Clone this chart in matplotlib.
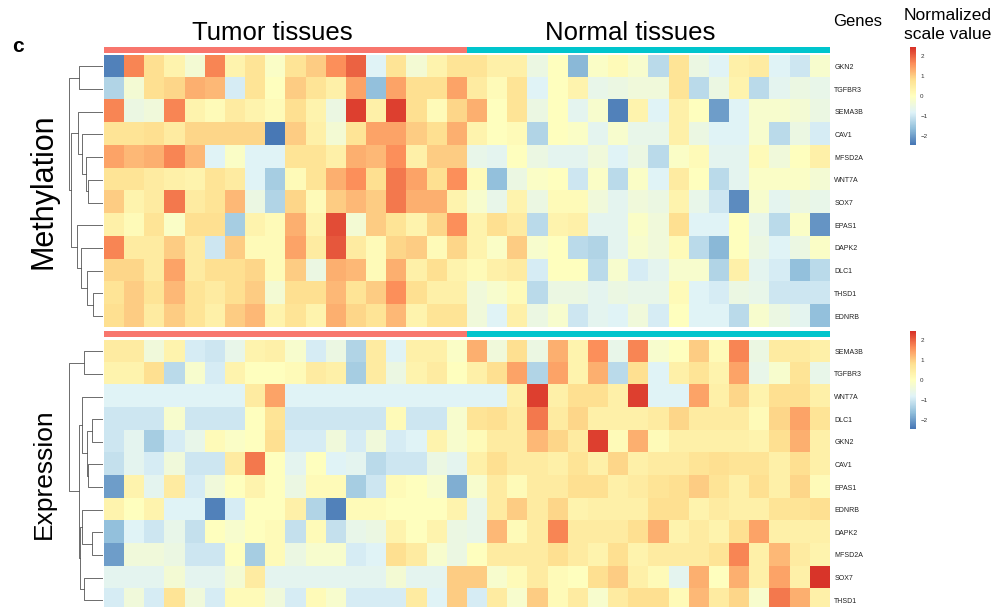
import numpy as np
import matplotlib
matplotlib.use("Agg")
import matplotlib.pyplot as plt
from matplotlib.colors import LinearSegmentedColormap, ListedColormap

plt.rcParams['font.family'] = ['Liberation Sans', 'DejaVu Sans']

# ---- data ----
groups = ['Tumor'] * 18 + ['Normal'] * 18

meth_genes = ['GKN2', 'TGFBR3', 'SEMA3B', 'CAV1', 'MFSD2A', 'WNT7A',
              'SOX7', 'EPAS1', 'DAPK2', 'DLC1', 'THSD1', 'EDNRB']
meth = [
    [-2.3, 1.7, 0.8, 0.3, -0.3, 1.7, 0.3, 0.7, -0.1, 0.7, 1.0, 1.6, 2.0, -0.8, 0.7, -0.3, 0.3, 0.7,
     0.7, 0.4, 0.4, -0.5, 0.0, -1.7, -0.1, 0.1, -0.2, -1.2, 0.7, -0.5, -0.8, 0.4, 0.5, -0.8, -1.0, -0.2],
    [-1.3, -0.3, 0.8, 0.9, 1.3, 1.2, -0.9, 0.7, 0.0, 1.0, 0.7, 0.4, 1.4, -1.6, 1.4, 0.8, 0.8, 1.4,
     0.5, 0.1, 0.7, -0.8, 0.0, 0.3, -0.6, -0.5, -0.4, -0.4, 0.7, -1.2, -0.5, 0.3, -1.2, -0.7, -0.5, -0.6],
    [1.7, -0.5, -0.4, 1.7, 0.3, 0.1, 0.5, 0.3, 0.1, 0.8, 0.3, -0.5, 2.3, 0.4, 2.3, 0.8, 0.1, 0.9,
     1.3, 0.0, 0.7, -0.5, 0.0, -0.7, -0.2, -2.3, 0.3, -0.8, 0.4, 0.0, -2.0, -0.8, -0.2, -0.2, -0.3, -0.5],
    [0.7, 0.7, 0.8, 0.5, 0.9, 0.9, 0.9, 0.9, -2.4, 1.0, 0.4, -0.3, 0.7, 1.4, 1.4, 1.0, 0.8, 1.3,
     0.3, 0.0, 0.1, -1.3, 0.0, -0.1, -0.7, -0.2, -0.6, -0.6, 0.4, -0.5, -0.8, -0.8, -0.2, -1.2, -0.5, -0.9],
    [1.4, 1.2, 1.3, 1.7, 1.2, -0.8, -0.1, -0.8, -0.8, 0.7, 0.7, 0.4, 1.3, 1.2, 1.6, 0.4, 1.0, 1.0,
     -0.6, -0.7, 0.0, -0.5, -0.7, -0.7, -0.4, -0.8, -0.5, -1.2, -0.1, 0.1, -0.7, -0.7, 0.1, -0.4, 0.0, 0.4],
    [0.7, 0.7, 0.5, 0.4, 0.3, 0.7, 0.5, -0.8, -1.4, 0.1, 0.7, 1.3, 1.6, 0.8, 1.8, 1.4, 0.8, 1.6,
     0.1, -1.6, -0.5, -0.1, 0.0, -1.0, -0.1, -1.2, -0.1, -0.8, 0.5, 0.0, -1.2, -0.7, -0.1, -0.1, -0.1, -0.3],
    [1.0, 0.3, 0.5, 1.8, 0.5, 0.7, 1.2, -0.5, -1.3, 0.9, 0.1, 1.0, 1.2, 1.0, 1.8, 1.3, 1.3, 0.3,
     -0.2, -0.6, 0.3, -0.5, 0.1, 0.1, -0.4, -0.7, -0.4, -0.5, 0.3, -0.6, -1.0, -2.2, -0.2, -0.7, -0.5, -0.6],
    [0.4, 0.1, 0.7, -0.1, 0.8, 0.8, -1.4, 0.3, 0.1, 1.3, 0.3, 2.2, -0.3, 1.0, 0.7, 0.3, 0.9, 1.6,
     0.3, 0.8, 0.5, -1.2, 0.3, 0.4, -0.7, -0.7, -0.1, -0.4, 0.8, -0.8, -0.8, 0.0, -0.6, -1.2, -0.1, -2.1],
    [1.7, 0.5, 0.5, 1.0, 0.5, -1.0, 1.0, 0.1, 0.1, 1.4, 0.5, 2.1, 0.5, 0.1, 0.9, 1.0, 0.1, 0.9,
     0.3, -0.1, 1.0, -0.2, 0.0, -1.2, -1.3, -0.7, -0.2, -0.4, 0.1, -1.2, -1.7, 0.0, -0.5, -0.8, -0.5, -0.1],
    [0.9, 0.9, 0.5, 1.4, 0.5, 0.8, 0.8, 0.9, 0.1, 1.0, -0.5, 1.3, 1.2, 0.1, 1.3, 0.4, 0.8, 0.3,
     0.1, 0.4, 0.5, -0.9, 0.0, 0.0, -1.2, -0.2, -0.9, -0.7, -0.2, -0.2, -1.3, 0.4, -0.7, -0.9, -1.6, -1.2],
    [0.7, 1.0, 0.7, 1.2, 0.7, 0.5, 0.8, 1.0, -0.3, 0.8, 0.8, 1.2, 0.7, 1.0, 1.6, 0.8, 0.4, 0.4,
     -0.4, -0.2, 0.1, -1.2, -0.5, -0.5, -0.7, -0.5, -0.6, -0.6, 0.1, -0.8, -0.9, -0.5, -0.6, -1.0, -1.0, -1.0],
    [0.8, 1.0, 0.5, 1.0, 0.7, 0.4, 1.0, 1.2, 0.3, 0.7, 0.3, 1.3, 0.9, 0.7, 1.2, 0.3, 0.7, 0.7,
     -0.4, -0.8, 0.4, -0.5, -0.2, -1.0, -0.7, -0.8, -0.4, -0.9, 0.0, -0.8, -0.8, -1.2, -0.2, -0.5, -0.7, -1.6],
]

expr_genes = ['SEMA3B', 'TGFBR3', 'WNT7A', 'DLC1', 'GKN2', 'CAV1',
              'EPAS1', 'EDNRB', 'DAPK2', 'MFSD2A', 'SOX7', 'THSD1']
expr = [
    [0.5, 0.5, -0.4, 0.3, -0.9, -1.0, -0.6, 0.3, 0.4, -0.2, -0.9, -0.5, -1.3, 0.5, -0.8, 0.4, 0.4, -0.1,
     1.3, -0.4, 0.8, -0.5, 1.3, 0.3, 1.6, -0.6, 1.7, -0.2, 0.0, 1.0, 0.1, 1.7, -0.5, 0.5, 0.5, 0.4],
    [0.3, 0.3, 0.8, -1.2, -0.2, -0.9, 0.3, 0.0, 0.0, 0.1, 0.5, 0.4, -1.4, 0.5, -0.5, 0.3, 0.5, 0.0,
     0.4, 0.8, 1.4, -1.3, 1.4, 0.3, 1.3, -1.2, 0.8, -0.8, 0.4, 0.7, 0.3, 1.4, -0.6, -0.2, 0.7, -0.6],
    [-0.8, -0.8, -0.8, -0.8, -0.8, -0.8, -0.8, 0.5, 1.4, -0.8, -0.8, -0.8, -0.8, -0.8, -0.8, -0.8, -0.8, -0.8,
     -0.8, -0.8, 0.4, 2.3, 0.4, 0.8, 0.8, 0.4, 2.3, -0.8, -0.8, 1.4, 0.4, 0.9, 0.3, 0.8, 0.8, 0.4],
    [-1.0, -1.0, -1.0, -0.2, -1.0, -1.0, -1.0, 0.0, 0.7, -1.0, -1.0, -1.0, -1.0, -1.0, 0.1, -1.0, -1.0, -0.2,
     0.7, 0.8, 0.5, 1.8, 0.5, 0.9, 0.4, 0.4, 0.4, 0.5, 0.9, 0.5, 0.5, 0.5, 0.1, 0.9, 1.4, 0.7],
    [-1.0, -0.7, -1.4, -0.9, -0.6, 0.1, -0.1, 0.0, 0.8, -0.9, -0.9, -0.4, -0.9, -0.4, -0.9, -0.8, 0.3, -0.2,
     0.1, 0.5, 0.5, 1.2, 0.9, 0.5, 2.3, 0.1, 1.3, 0.1, 0.4, 0.4, 0.4, 0.4, 0.3, 0.8, 1.3, 0.4],
    [-1.1, -0.7, -0.9, -0.4, -1.0, -1.0, 0.5, 1.8, 0.0, -0.7, 0.0, -0.8, -0.7, -1.2, -1.0, -1.0, -0.5, -0.7,
     0.4, 0.8, 0.5, 0.5, 0.4, 0.7, 0.4, 0.9, 0.4, 0.5, 0.5, 0.7, 0.8, 0.7, 0.7, 0.4, 0.8, 0.4],
    [-2.0, 0.3, -0.7, 0.5, -0.9, -0.4, 0.0, 0.3, 0.0, -0.5, 0.1, 0.1, -1.4, -1.0, 0.1, 0.0, -0.2, -1.8,
     -0.2, 0.5, 0.1, 0.5, 0.5, 0.8, 0.8, 0.4, 0.5, 0.7, 0.8, 1.0, 0.7, 0.4, 0.8, 0.4, 0.9, 0.1],
    [0.3, 0.0, 0.3, -0.8, -0.8, -2.3, -0.9, 0.0, 0.0, 0.4, -1.3, -2.3, 0.1, 0.1, 0.0, 0.0, 0.0, 0.3,
     -0.6, 0.5, 1.0, 0.5, 0.9, 0.3, 0.4, 0.4, 0.4, 0.8, 0.8, 0.3, 0.5, 0.4, 0.4, 0.7, 0.7, 0.8],
    [-1.6, -0.8, -1.0, -0.6, -1.1, 0.0, -0.2, 0.0, 0.1, -1.1, 0.1, -1.1, -0.6, -0.5, 0.3, 0.0, 0.3, -0.5,
     -0.6, 1.2, 0.1, 0.5, 1.7, 0.5, 0.5, 0.5, 0.8, 1.3, 0.3, 0.5, 0.3, 0.8, 1.4, 0.4, 0.4, 0.4],
    [-2.0, -0.4, -0.4, -0.5, -1.0, -1.0, 0.0, -1.4, 0.1, -0.5, -0.2, -0.2, -0.9, -0.8, 0.8, 0.5, -0.2, -0.5,
     0.0, 0.5, 0.5, 0.5, 0.8, 0.5, 0.3, 0.8, 0.3, 0.5, 0.5, 0.5, 0.7, 1.7, 0.4, 1.2, 0.5, 0.3],
    [-0.7, -0.7, -0.7, -0.3, -0.7, -0.7, -0.3, 0.5, -0.7, -0.7, -0.7, -0.7, -0.7, -0.7, -0.3, -0.7, -0.7, 1.0,
     1.0, -0.2, 0.1, 0.5, 0.1, 0.0, 0.8, 1.0, 0.4, 0.1, -0.7, 1.3, 0.0, 1.3, 0.4, 1.4, 0.4, 2.4],
    [-0.9, -0.4, -0.9, 0.7, -0.4, -0.9, 0.1, 0.1, -0.4, -0.9, 0.1, -0.2, -0.9, -0.9, -0.9, 0.5, -0.8, 1.0,
     -0.9, 0.5, -0.2, 1.0, 0.1, 0.5, -0.2, 0.5, 0.8, 0.8, 0.1, 1.2, 0.5, 0.9, -0.2, 1.8, 1.3, 0.4],
]

# row clustering (left child, right child, merge height); leaves = row index
meth_tree = ((0, 1, 24),
             ((2, (3, (4, (5, 6, 15), 17), 21), 25),
              (7, (8, (9, (10, 11, 10), 16), 22), 26), 32),
             34)
expr_tree = ((0, 1, 19),
             ((2, ((3, 4, 11), (5, 6, 15), 16), 21),
              ((7, (8, 9, 11), 21), (10, 11, 19), 23), 24),
             34)

# ---- style ----
W, H = 999, 607
cmap = LinearSegmentedColormap.from_list(
    'ph', ['#4575B4', '#91BFDB', '#E0F3F8', '#FFFFBF', '#FEE090', '#FC8D59', '#D73027'])
grp_cmap = ListedColormap(['#F8766D', '#00C5CD'])
vmin, vmax = -2.45, 2.45


def px(x0, y0, x1, y1):
    return [x0 / W, 1 - y1 / H, (x1 - x0) / W, (y1 - y0) / H]


def draw_tree(ax, node):
    if not isinstance(node, tuple):
        return node, 0
    ya, ha = draw_tree(ax, node[0])
    yb, hb = draw_tree(ax, node[1])
    h = node[2]
    ax.plot([ha, h, h, hb], [ya, ya, yb, yb], color='#555555', lw=0.6)
    return (ya + yb) / 2, h


fig = plt.figure(figsize=(W / 100, H / 100), dpi=100)

blocks = [(meth, meth_genes, meth_tree, 47, 55, 327.4, 'Methylation', 22),
          (expr, expr_genes, expr_tree, 331, 340, 611.5, 'Expression', 19)]

for data, genes, tree, bar_y, top, bot, label, lsize in blocks:
    # annotation bar
    axb = fig.add_axes(px(104, bar_y, 830, bar_y + 6.5))
    codes = [[0 if g == 'Tumor' else 1 for g in groups]]
    axb.imshow(codes, cmap=grp_cmap, aspect='auto', interpolation='nearest')
    axb.axis('off')

    # heatmap
    ax = fig.add_axes(px(104, top, 830, bot))
    im = ax.imshow(np.array(data), cmap=cmap, vmin=vmin, vmax=vmax,
                   aspect='auto', interpolation='nearest')
    ax.set_xticks([])
    ax.set_yticks(range(len(genes)))
    ax.set_yticklabels(genes, fontsize=5, color='#222222')
    ax.yaxis.tick_right()
    ax.tick_params(axis='y', length=0, pad=3)
    for s in ax.spines.values():
        s.set_visible(False)

    # dendrogram
    axd = fig.add_axes(px(60, top, 103, bot))
    draw_tree(axd, tree)
    axd.set_xlim(43, 0)
    axd.set_ylim(len(genes) - 0.5, -0.5)
    axd.axis('off')

    fig.text(44 / W, 1 - ((top + min(bot, H)) / 2) / H, label, rotation=90,
             ha='center', va='center', fontsize=lsize)

    # colour legend
    cax = fig.add_axes(px(910, bar_y, 916, bar_y + 98))
    cb = fig.colorbar(im, cax=cax, ticks=[-2, -1, 0, 1, 2])
    cb.outline.set_visible(False)
    cb.ax.tick_params(labelsize=4.5, length=0, pad=3, labelcolor='#333333')

fig.text(18 / W, 1 - 46 / H, 'c', fontsize=15, fontweight='bold', ha='center', va='center')
fig.text(272 / W, 1 - 33 / H, 'Tumor tissues', fontsize=18.5, ha='center', va='center')
fig.text(630 / W, 1 - 33 / H, 'Normal tissues', fontsize=18.5, ha='center', va='center')
fig.text(833 / W, 1 - 22 / H, 'Genes', fontsize=12, ha='left', va='center')
fig.text(904 / W, 1 - 25 / H, 'Normalized\nscale value', fontsize=12.5, ha='left',
         va='center', linespacing=1.3)

fig.savefig('out.png', dpi=100)
